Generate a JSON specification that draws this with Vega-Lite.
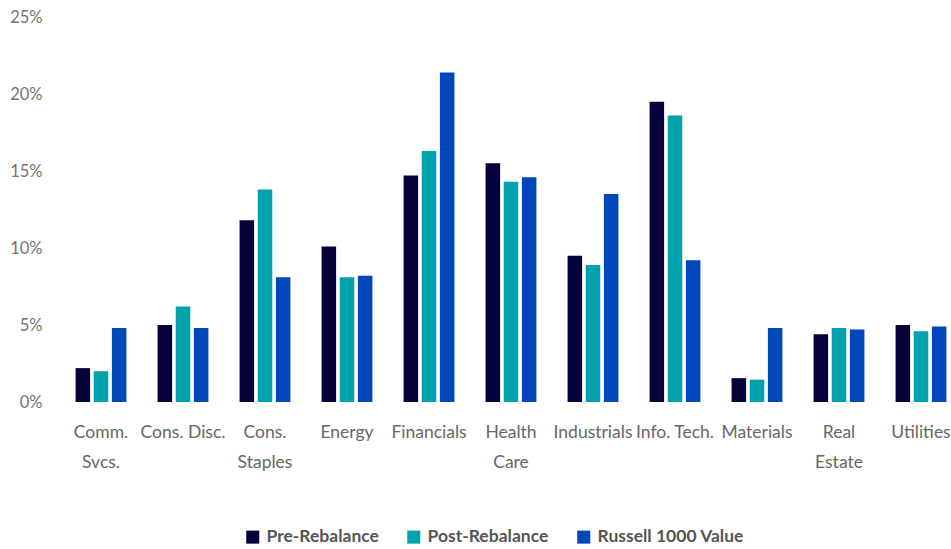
{
  "$schema": "https://vega.github.io/schema/vega-lite/v6.json",
  "autosize": "none",
  "width": 902,
  "height": 385,
  "padding": {"left": 60, "top": 17, "right": 0, "bottom": 147},
  "background": "white",
  "data": {
    "values": [
      {"sector": "Comm. Svcs.", "series": "Pre-Rebalance", "weight": 2.2},
      {"sector": "Comm. Svcs.", "series": "Post-Rebalance", "weight": 2.0},
      {"sector": "Comm. Svcs.", "series": "Russell 1000 Value", "weight": 4.8},
      {"sector": "Cons. Disc.", "series": "Pre-Rebalance", "weight": 5.0},
      {"sector": "Cons. Disc.", "series": "Post-Rebalance", "weight": 6.2},
      {"sector": "Cons. Disc.", "series": "Russell 1000 Value", "weight": 4.8},
      {"sector": "Cons. Staples", "series": "Pre-Rebalance", "weight": 11.8},
      {"sector": "Cons. Staples", "series": "Post-Rebalance", "weight": 13.8},
      {"sector": "Cons. Staples", "series": "Russell 1000 Value", "weight": 8.1},
      {"sector": "Energy", "series": "Pre-Rebalance", "weight": 10.1},
      {"sector": "Energy", "series": "Post-Rebalance", "weight": 8.1},
      {"sector": "Energy", "series": "Russell 1000 Value", "weight": 8.2},
      {"sector": "Financials", "series": "Pre-Rebalance", "weight": 14.7},
      {"sector": "Financials", "series": "Post-Rebalance", "weight": 16.3},
      {"sector": "Financials", "series": "Russell 1000 Value", "weight": 21.4},
      {"sector": "Health Care", "series": "Pre-Rebalance", "weight": 15.5},
      {"sector": "Health Care", "series": "Post-Rebalance", "weight": 14.3},
      {"sector": "Health Care", "series": "Russell 1000 Value", "weight": 14.6},
      {"sector": "Industrials", "series": "Pre-Rebalance", "weight": 9.5},
      {"sector": "Industrials", "series": "Post-Rebalance", "weight": 8.9},
      {"sector": "Industrials", "series": "Russell 1000 Value", "weight": 13.5},
      {"sector": "Info. Tech.", "series": "Pre-Rebalance", "weight": 19.5},
      {"sector": "Info. Tech.", "series": "Post-Rebalance", "weight": 18.6},
      {"sector": "Info. Tech.", "series": "Russell 1000 Value", "weight": 9.2},
      {"sector": "Materials", "series": "Pre-Rebalance", "weight": 1.55},
      {"sector": "Materials", "series": "Post-Rebalance", "weight": 1.45},
      {"sector": "Materials", "series": "Russell 1000 Value", "weight": 4.8},
      {"sector": "Real Estate", "series": "Pre-Rebalance", "weight": 4.4},
      {"sector": "Real Estate", "series": "Post-Rebalance", "weight": 4.8},
      {"sector": "Real Estate", "series": "Russell 1000 Value", "weight": 4.7},
      {"sector": "Utilities", "series": "Pre-Rebalance", "weight": 5.0},
      {"sector": "Utilities", "series": "Post-Rebalance", "weight": 4.6},
      {"sector": "Utilities", "series": "Russell 1000 Value", "weight": 4.9}
    ]
  },
  "mark": {"type": "bar"},
  "encoding": {
    "x": {
      "field": "sector",
      "type": "nominal",
      "sort": null,
      "scale": {"paddingInner": 0.38, "paddingOuter": 0.19},
      "axis": {
        "title": null,
        "labelAngle": 0,
        "domain": false,
        "ticks": false,
        "labelPadding": 30,
        "labelFont": "Lato",
        "labelFontSize": 17.5,
        "labelColor": "#666666",
        "labelLineHeight": 30,
        "labelBaseline": "middle",
        "labelExpr": "datum.label == 'Comm. Svcs.' ? ['Comm.', 'Svcs.'] : datum.label == 'Cons. Staples' ? ['Cons.', 'Staples'] : datum.label == 'Health Care' ? ['Health', 'Care'] : datum.label == 'Real Estate' ? ['Real', 'Estate'] : datum.label"
      }
    },
    "xOffset": {
      "field": "series",
      "type": "nominal",
      "sort": ["Pre-Rebalance", "Post-Rebalance", "Russell 1000 Value"],
      "scale": {"paddingInner": 0.2}
    },
    "y": {
      "field": "weight",
      "type": "quantitative",
      "scale": {"domain": [0, 25]},
      "axis": {
        "title": null,
        "values": [0, 5, 10, 15, 20, 25],
        "labelExpr": "datum.value + '%'",
        "grid": false,
        "domain": false,
        "ticks": false,
        "labelPadding": 18,
        "labelFont": "Lato",
        "labelFontSize": 16.5,
        "labelColor": "#737373"
      }
    },
    "color": {
      "field": "series",
      "type": "nominal",
      "sort": ["Pre-Rebalance", "Post-Rebalance", "Russell 1000 Value"],
      "scale": {
        "domain": ["Pre-Rebalance", "Post-Rebalance", "Russell 1000 Value"],
        "range": ["#05033a", "#00a3ab", "#0047bb"]
      },
      "legend": {
        "title": null,
        "orient": "none",
        "legendX": 184,
        "legendY": 511,
        "direction": "horizontal",
        "symbolType": "square",
        "symbolSize": 170,
        "symbolStrokeWidth": 0,
        "labelFont": "Lato",
        "labelFontSize": 17.5,
        "labelFontWeight": "bold",
        "labelColor": "#555555",
        "columnPadding": 26,
        "labelOffset": 5
      }
    }
  },
  "config": {"view": {"stroke": null}}
}
